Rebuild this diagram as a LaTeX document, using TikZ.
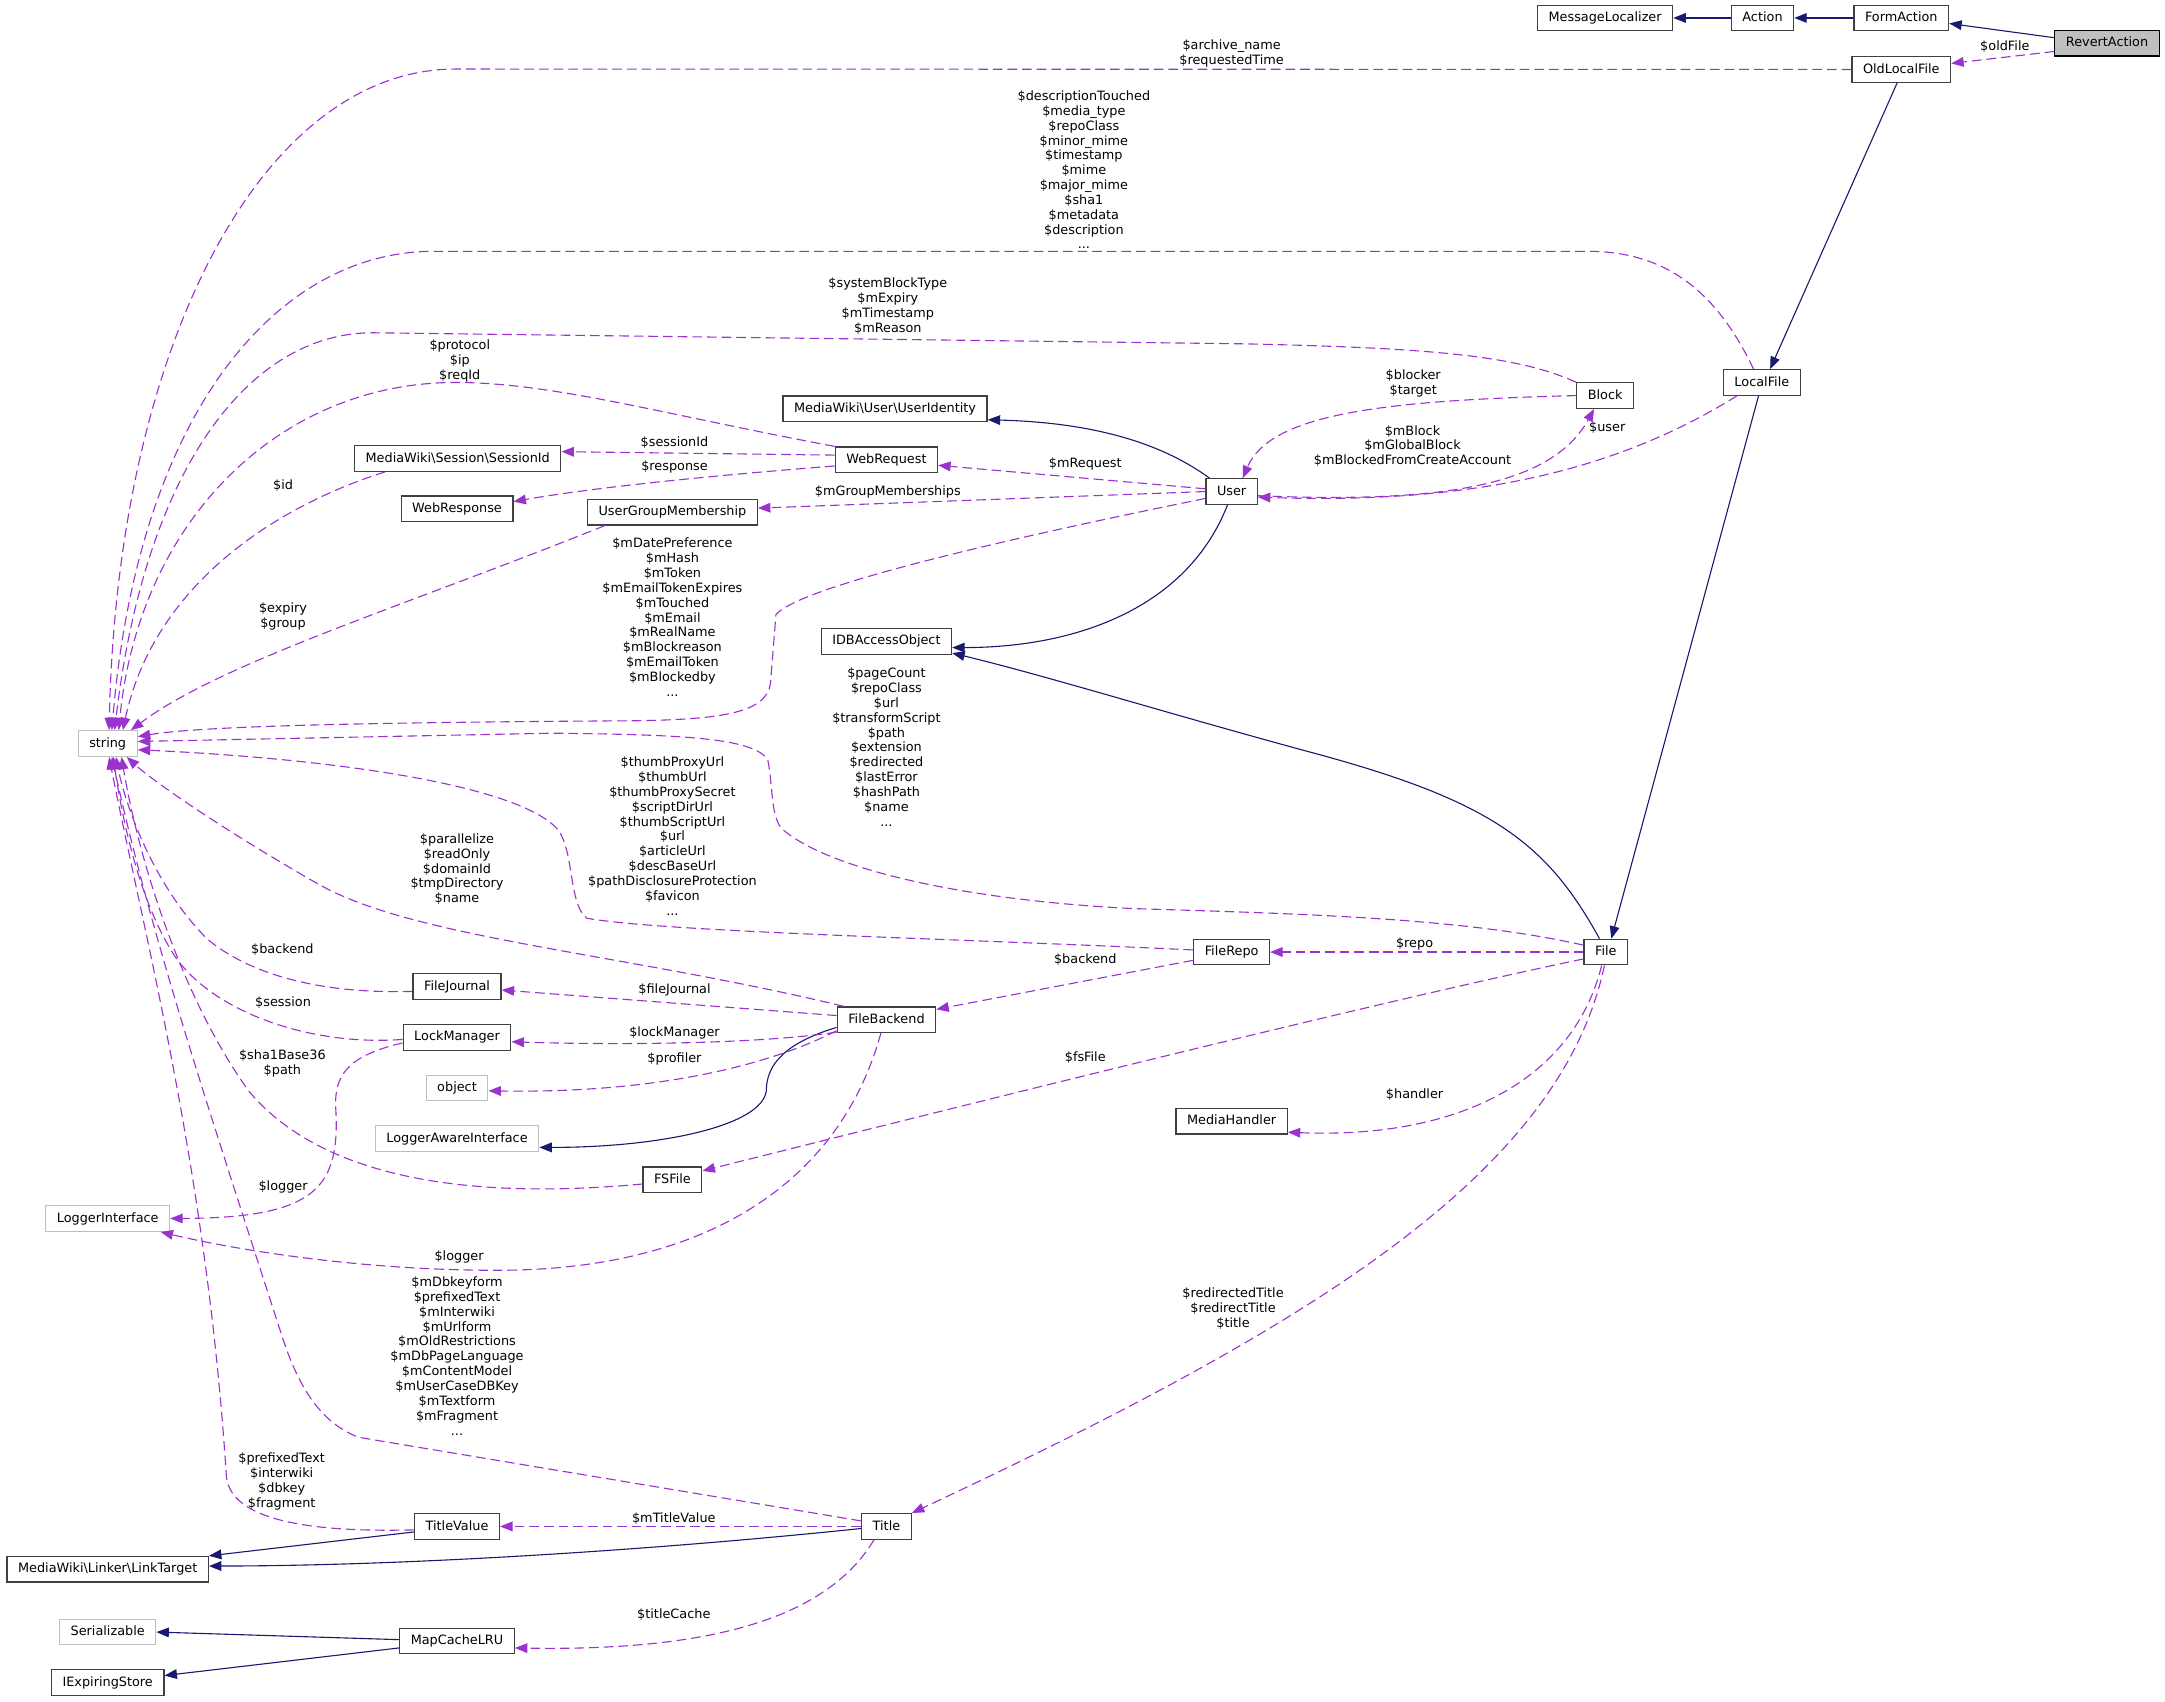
\documentclass[tikz,border=0pt]{standalone}
\usepackage{fontspec}
\setmainfont{DejaVu Sans}
\usepackage{tikz}
\usetikzlibrary{arrows.meta}
\definecolor{edgeblue}{HTML}{191970}
\definecolor{edgepurple}{HTML}{9A32CD}
\definecolor{boxborder}{HTML}{404040}
\definecolor{extborder}{HTML}{BFBFBF}
\definecolor{mainfill}{HTML}{BFBFBF}
\newcommand{\dgfont}{\fontsize{9.3}{10.75}\selectfont}

\begin{document}
\begin{tikzpicture}[x=1pt, y=-1pt,
  cls/.style={draw=boxborder, line width=0.9pt, fill=white, font=\dgfont, inner xsep=8pt, inner ysep=0pt,
    minimum height=18.5pt, text height=7pt, text depth=1.8pt},
  extcls/.style={cls, draw=extborder},
  inh/.style={edgeblue, line width=0.8pt, -{Triangle[length=9pt,width=7pt]}},
  member/.style={edgepurple, line width=0.8pt, dash pattern=on 7pt off 3.6pt, -{Triangle[length=9pt,width=7pt]}},
  lbl/.style={font=\dgfont, align=center, inner sep=0pt, text=black}]
  \path[use as bounding box, fill=white] (0,0) rectangle (1568,1232);

  % classes
  \node[cls] (msgloc) at (1162.5,13) {MessageLocalizer};
  \node[cls] (action) at (1276.5,13) {Action};
  \node[cls] (formaction) at (1377,13) {FormAction};
  \node[cls, draw=black, fill=mainfill] (revert) at (1526,31.3) {RevertAction};
  \node[cls] (oldlocal) at (1377,50.3) {OldLocalFile};
  \node[cls] (localfile) at (1276,277) {LocalFile};
  \node[cls] (block) at (1162.5,286.5) {Block};
  \node[cls] (user) at (892,356) {User};
  \node[cls] (useridentity) at (641,296) {MediaWiki\textbackslash User\textbackslash UserIdentity};
  \node[cls] (webrequest) at (642,333) {WebRequest};
  \node[cls] (sessionid) at (331.5,332) {MediaWiki\textbackslash Session\textbackslash SessionId};
  \node[cls] (webresponse) at (331,368.5) {WebResponse};
  \node[cls] (ugm) at (487,371) {UserGroupMembership};
  \node[cls] (idb) at (642,464.5) {IDBAccessObject};
  \node[extcls] (string) at (78,538.5) {string};
  \node[cls] (file) at (1163,689.5) {File};
  \node[cls] (filerepo) at (892,689.5) {FileRepo};
  \node[cls] (mediahandler) at (892,812) {MediaHandler};
  \node[cls] (filebackend) at (642,738.5) {FileBackend};
  \node[cls] (filejournal) at (331,714.5) {FileJournal};
  \node[cls] (lockmanager) at (331,751.3) {LockManager};
  \node[extcls] (object) at (331,788) {object};
  \node[extcls] (loggeraware) at (331,824.5) {LoggerAwareInterface};
  \node[cls] (fsfile) at (487,854.5) {FSFile};
  \node[extcls] (loggeriface) at (78,882.5) {LoggerInterface};
  \node[cls] (title) at (642,1105.5) {Title};
  \node[cls] (titlevalue) at (331,1105.5) {TitleValue};
  \node[cls] (linktarget) at (78,1136.5) {MediaWiki\textbackslash Linker\textbackslash LinkTarget};
  \node[extcls] (serializable) at (78,1182) {Serializable};
  \node[cls] (mapcache) at (331,1188.5) {MapCacheLRU};
  \node[cls] (iexpiring) at (78,1218.5) {IExpiringStore};

  % inheritance
  \draw[inh] ([yshift=4pt]revert.west) -- ([yshift=-4pt]formaction.east);
  \draw[inh] (formaction) -- (action);
  \draw[inh] (action) -- (msgloc);
  \draw[inh] ([xshift=-3pt]oldlocal.south) -- ([xshift=6pt]localfile.north);
  \draw[inh] ([xshift=-2.4pt]localfile.south) -- ([xshift=4pt]file.north);
  \draw[inh] ([xshift=-16pt]user.north) .. controls (840,320) and (790,306) .. ([yshift=-8pt]useridentity.east);
  \draw[inh] ([xshift=-3pt]user.south) .. controls (860,440) and (780,469) .. ([yshift=-4.5pt]idb.east);
  \draw[inh] ([xshift=-4.6pt]file.north) .. controls (1120,610) and (1080,580) .. (950,545)
    .. controls (850,518) and (760,490) .. ([yshift=-8.5pt]idb.east);
  \draw[inh] ([yshift=-5.6pt]filebackend.west) .. controls (570,755) and (555,770) .. (555,790)
    .. controls (552,815) and (480,831) .. ([yshift=-6.5pt]loggeraware.east);
  \draw[inh] ([yshift=-4pt]titlevalue.west) -- (linktarget.north east);
  \draw[inh] ([yshift=-1.5pt]title.west) .. controls (480,1122) and (300,1134) .. ([yshift=2.3pt]linktarget.east);
  \draw[inh] ([yshift=1pt]mapcache.west) -- (serializable.east);
  \draw[inh] ([yshift=-5pt]mapcache.west) -- ([yshift=5pt]iexpiring.east);

  % members
  \draw[member] ([yshift=-6pt]revert.west) -- ([yshift=4.4pt]oldlocal.east);
  \draw[member] (oldlocal.west) -- (330,50) .. controls (190,50) and (85,250) .. ([xshift=1pt]string.north);
  \draw[member] ([xshift=-6pt]localfile.north) .. controls (1245,215) and (1210,182) .. (1150,182) -- (314,182)
    .. controls (200,182) and (100,300) .. ([xshift=3pt]string.north);
  \draw[member] ([xshift=-18pt]localfile.south) .. controls (1180,335) and (1080,366) .. ([yshift=-4pt]user.east);
  \draw[member] (block.north west) .. controls (1100,258) and (1040,252) .. (900,249) -- (270,241)
    .. controls (180,241) and (105,340) .. ([xshift=5pt]string.north);
  \draw[member] (block.west) .. controls (1000,290) and (920,300) .. ([xshift=8pt]user.north);
  \draw[member] ([yshift=-3pt]user.east) .. controls (1050,365) and (1125,350) .. ([xshift=-8pt]block.south);
  \draw[member] ([yshift=2pt]user.west) -- ([yshift=-4pt]webrequest.east);
  \draw[member] (user.west) -- ([yshift=3pt]ugm.east);
  \draw[member] ([yshift=-5pt]user.west) .. controls (720,392) and (580,425) .. (562,445) -- (558,495)
    .. controls (555,517) and (520,521) .. (460,522) .. controls (300,523) and (150,525) .. ([yshift=5pt]string.east);
  \draw[member] (webrequest.north west) .. controls (480,300) and (400,277) .. (330,277)
    .. controls (200,277) and (100,380) .. ([xshift=8pt]string.north);
  \draw[member] ([yshift=3.4pt]webrequest.west) -- ([yshift=4.9pt]sessionid.east);
  \draw[member] ([yshift=-4.5pt]webrequest.west) .. controls (520,344) and (430,353) .. ([yshift=5.2pt]webresponse.east);
  \draw[member] ([xshift=-52.5pt]sessionid.south) .. controls (190,370) and (110,430) .. ([xshift=11pt]string.north);
  \draw[member] ([xshift=-49pt]ugm.south) .. controls (290,440) and (160,480) .. ([xshift=-5pt]string.north east);
  \draw[member] ([yshift=5pt]file.west) .. controls (1060,665) and (950,662) .. (820,658)
    .. controls (700,652) and (600,630) .. (566,600) .. controls (558,590) and (560,570) .. (556,550)
    .. controls (545,535) and (500,532) .. (400,531) -- ([yshift=1.5pt]string.east);
  \draw[member] (file.west) -- (filerepo.east);
  \draw[member] ([yshift=-5pt]file.west) .. controls (1000,725) and (700,800) .. ([yshift=6.5pt]fsfile.east);
  \draw[member] ([xshift=-3pt]file.south) .. controls (1140,780) and (1060,825) .. ([yshift=-8pt]mediahandler.east);
  \draw[member] ([xshift=-1pt]file.south) .. controls (1130,850) and (950,960) .. (title.north east);
  \draw[member] ([yshift=1.5pt]filerepo.west) .. controls (700,680) and (480,675) .. (425,665)
    .. controls (412,655) and (416,620) .. (405,602) .. controls (380,570) and (250,550) .. ([yshift=-4.5pt]string.east);
  \draw[member] ([yshift=-6pt]filerepo.west) -- ([yshift=7.5pt]filebackend.east);
  \draw[member] ([xshift=-31pt]filebackend.north) .. controls (450,690) and (300,680) .. (230,640)
    .. controls (160,600) and (110,565) .. ([xshift=-8pt]string.south east);
  \draw[member] ([yshift=3pt]filebackend.west) -- ([yshift=-2.5pt]filejournal.east);
  \draw[member] ([yshift=-9pt]filebackend.west) .. controls (550,756) and (450,757) .. ([yshift=-3.2pt]lockmanager.east);
  \draw[member] ([yshift=-8pt]filebackend.west) .. controls (560,770) and (480,792) .. ([yshift=-2pt]object.east);
  \draw[member] ([xshift=-4pt]filebackend.south) .. controls (610,850) and (520,920) .. (360,920)
    .. controls (260,920) and (170,905) .. ([xshift=-7pt]loggeriface.south east);
  \draw[member] ([yshift=-3.5pt]filejournal.west) .. controls (230,720) and (180,705) .. (150,680)
    .. controls (110,640) and (90,580) .. ([xshift=6pt]string.south);
  \draw[member] ([yshift=-1.5pt]lockmanager.west) .. controls (220,758) and (150,730) .. (125,690)
    .. controls (100,650) and (88,590) .. ([xshift=4pt]string.south);
  \draw[member] ([yshift=-4pt]lockmanager.west) .. controls (250,765) and (243,780) .. (243,800)
    .. controls (247,860) and (230,882) .. (loggeriface.east);
  \draw[member] ([yshift=-3pt]fsfile.west) .. controls (330,870) and (230,850) .. (180,790)
    .. controls (130,720) and (100,620) .. ([xshift=10pt]string.south);
  \draw[member] ([yshift=4pt]title.west) -- (260,1041) .. controls (230,1030) and (215,1000) .. (205,970)
    .. controls (150,800) and (110,680) .. ([xshift=3pt]string.south);
  \draw[member] ([yshift=-2.5pt]titlevalue.west) .. controls (220,1110) and (168,1100) .. (164,1070)
    .. controls (150,850) and (105,680) .. ([xshift=1pt]string.south);
  \draw[member] (title.west) -- (titlevalue.east);
  \draw[member] ([xshift=-9pt]title.south) .. controls (600,1170) and (520,1196) .. ([yshift=-5pt]mapcache.east);

  % labels
  \node[lbl] (l-oldfile) at (1452,34) {\$oldFile};
  \node[lbl] (l-archive) at (892,39) {\$archive\_name\\\$requestedTime};
  \node[lbl] (l-localstr) at (785,123) {\$descriptionTouched\\\$media\_type\\\$repoClass\\\$minor\_mime\\\$timestamp\\\$mime\\\$major\_mime\\\$sha1\\\$metadata\\\$description\\...};
  \node[lbl] (l-blockstr) at (643,221.5) {\$systemBlockType\\\$mExpiry\\\$mTimestamp\\\$mReason};
  \node[lbl] (l-reqstr) at (333,261.5) {\$protocol\\\$ip\\\$reqId};
  \node[lbl] (l-blocker) at (1023.5,278) {\$blocker\\\$target};
  \node[lbl] (l-mblock) at (1023,323) {\$mBlock\\\$mGlobalBlock\\\$mBlockedFromCreateAccount};
  \node[lbl] (l-user) at (1164,310) {\$user};
  \node[lbl] (l-sessionid) at (488.5,320.5) {\$sessionId};
  \node[lbl] (l-response) at (488.5,338.5) {\$response};
  \node[lbl] (l-mrequest) at (786,336) {\$mRequest};
  \node[lbl] (l-groups) at (643,356.5) {\$mGroupMemberships};
  \node[lbl] (l-id) at (205,352) {\$id};
  \node[lbl] (l-userstr) at (487,447) {\$mDatePreference\\\$mHash\\\$mToken\\\$mEmailTokenExpires\\\$mTouched\\\$mEmail\\\$mRealName\\\$mBlockreason\\\$mEmailToken\\\$mBlockedby\\...};
  \node[lbl] (l-expiry) at (205,446.5) {\$expiry\\\$group};
  \node[lbl] (l-filestr) at (642,541) {\$pageCount\\\$repoClass\\\$url\\\$transformScript\\\$path\\\$extension\\\$redirected\\\$lastError\\\$hashPath\\\$name\\...};
  \node[lbl] (l-repostr) at (487,605.5) {\$thumbProxyUrl\\\$thumbUrl\\\$thumbProxySecret\\\$scriptDirUrl\\\$thumbScriptUrl\\\$url\\\$articleUrl\\\$descBaseUrl\\\$pathDisclosureProtection\\\$favicon\\...};
  \node[lbl] (l-backendstr) at (331,629.5) {\$parallelize\\\$readOnly\\\$domainId\\\$tmpDirectory\\\$name};
  \node[lbl] (l-jbackend) at (204.5,688) {\$backend};
  \node[lbl] (l-backend) at (786,695) {\$backend};
  \node[lbl] (l-repo) at (1024.5,683.5) {\$repo};
  \node[lbl] (l-filejournal) at (488.5,717) {\$fileJournal};
  \node[lbl] (l-session) at (205,726) {\$session};
  \node[lbl] (l-lockmanager) at (488.5,748) {\$lockManager};
  \node[lbl] (l-profiler) at (488.5,767) {\$profiler};
  \node[lbl] (l-fsfile) at (786,766) {\$fsFile};
  \node[lbl] (l-sha1) at (204.5,770) {\$sha1Base36\\\$path};
  \node[lbl] (l-handler) at (1024.5,793) {\$handler};
  \node[lbl] (l-lmlogger) at (205,860) {\$logger};
  \node[lbl] (l-fblogger) at (332.5,910) {\$logger};
  \node[lbl] (l-redirect) at (893,947.5) {\$redirectedTitle\\\$redirectTitle\\\$title};
  \node[lbl] (l-titlestr) at (331,982) {\$mDbkeyform\\\$prefixedText\\\$mInterwiki\\\$mUrlform\\\$mOldRestrictions\\\$mDbPageLanguage\\\$mContentModel\\\$mUserCaseDBKey\\\$mTextform\\\$mFragment\\...};
  \node[lbl] (l-tvstr) at (204,1073) {\$prefixedText\\\$interwiki\\\$dbkey\\\$fragment};
  \node[lbl] (l-mtitlevalue) at (488,1100) {\$mTitleValue};
  \node[lbl] (l-titlecache) at (488,1169.5) {\$titleCache};
\end{tikzpicture}
\end{document}
